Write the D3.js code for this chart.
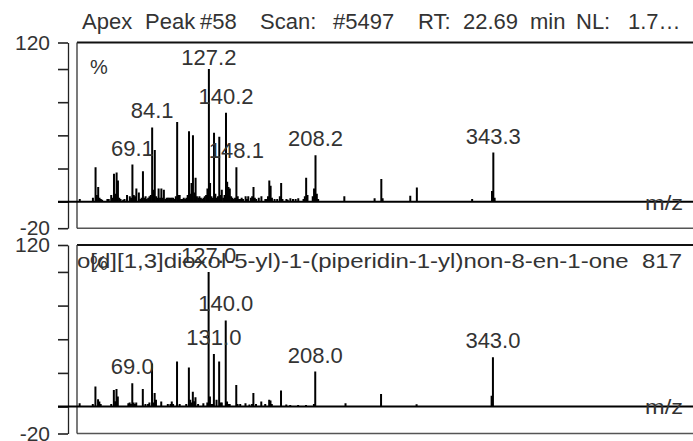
<!DOCTYPE html>
<html><head><meta charset="utf-8">
<script src="https://cdn.jsdelivr.net/npm/d3@7"></script>
<style>
body{margin:0;background:#fff}
svg{display:block}
text{font-family:Arial,"Liberation Sans",sans-serif;fill:#333}
</style>
</head><body>
<svg id="c" width="693" height="441"></svg>
<script>
// ---------- data ----------
const titleText = "Apex Peak #58 Scan: #5497 RT: 22.69 min NL: 1.7…";
const nameText = "o[d][1,3]dioxol-5-yl)-1-(piperidin-1-yl)non-8-en-1-one  817";
const mzDomain = [27, 495];
const yTicks = [-20, 0, 25, 50, 75, 100, 120];
const yTickLabels = [120, -20];

const topMz = [
  29.1,39.1,41.1,42.1,43.1,44.1,45.1,46.1,50.1,51.1,
  53.0,54.1,55.1,56.1,57.1,58.1,59.1,60.1,62.1,63.1,
  65.0,67.1,68.1,69.1,70.1,71.1,72.1,74.0,75.1,76.1,
  77.1,78.1,79.1,80.1,81.1,82.1,83.1,84.1,85.1,86.1,
  87.1,88.1,89.0,90.1,91.1,92.1,93.0,94.1,95.1,96.1,
  97.1,98.1,99.1,100.1,101.1,102.1,103.1,104.1,105.0,106.1,
  107.1,108.1,109.1,110.1,111.1,112.1,113.1,114.0,115.1,116.1,
  117.1,118.1,119.1,120.0,121.1,122.1,123.1,124.1,125.1,126.1,
  127.2,128.1,129.1,130.1,131.1,132.1,133.1,134.1,135.1,136.1,
  137.0,138.1,139.1,140.2,141.1,142.1,143.1,144.1,145.1,146.1,
  147.1,148.1,149.1,150.1,151.1,152.1,153.1,155.1,156.1,157.1,
  159.1,160.1,161.1,162.1,163.1,165.1,167.1,170.1,171.1,172.1,
  173.1,174.1,175.1,177.1,179.1,181.1,182.1,183.1,186.1,187.1,
  189.1,191.1,193.1,195.1,199.1,200.1,201.1,202.1,206.1,207.1,
  208.2,209.2,210.2,230.1,253.1,258.2,259.2,280.2,285.2,327.2,
  342.3,343.3,344.3];
const topInt = [
  2,3,26,5,11,3,2,1.5,2,2,
  5,3,21,6,22,16,3,2,1.5,2,
  5,4,3,28,5,4,10,7,2,3,
  23,3,4,2,3,4,5,56,9,39,
  4,3,10,3,10,3,9,2,3,3,
  3,3,3,3,2,4,60,5,5,2,
  2,3,2,3,5,53,6,14,50,7,
  18,4,3,4,3,2,3,4,5,10,
  100,14,4,3,52,6,3,4,49,5,
  9,3,5,67,15,11,10,4,3,2,
  3,26,4,2,2,3,2,4,2,4,
  3,4,11,3,2,3,4,2,2,4,
  16,12,3,2,2,4,14,2,2,1.5,
  2.5,2,2,2.5,2,4,18,5,4,10,
  35,6,2,4,2.5,17,2.5,4.5,10.6,2,
  8,37,3];
const topLabels = [69.1, 84.1, 127.2, 140.2, 148.1, 208.2, 343.3];

const botMz = [
  29.0,39.0,41.0,43.0,44.0,45.0,53.0,55.0,56.0,57.0,
  58.0,66.0,67.0,68.0,69.0,70.0,71.0,72.0,77.0,79.0,
  81.0,82.0,84.0,85.0,86.0,87.0,91.0,96.0,98.0,99.0,
  100.0,103.0,105.0,110.0,112.0,113.0,114.0,115.0,116.0,117.0,
  119.0,123.0,126.0,127.0,128.0,129.0,130.0,131.0,133.0,135.0,
  136.0,137.0,140.0,141.0,142.0,143.0,148.0,149.0,151.0,155.0,
  158.0,160.0,161.0,163.0,167.0,170.0,173.0,174.0,175.0,182.0,
  186.0,189.0,195.0,201.0,207.0,208.0,231.0,258.0,285.0,342.0,
  343.0];
const botInt = [
  2.5,2,15,5.4,3.7,2,2,12.4,4,13,
  7.4,2.5,3,2,17.3,3,2,3,13,2,
  2,3,32,3,10,5,3.7,2,2,3.7,
  2,33.4,2,2,29,5,3,11,4,7,
  2,2.5,3,100,7.4,2,2,39,5,33.4,
  3,3,64,3.7,2,2,16,2,2,2.5,
  1.5,2,10,2,3.7,2,5,4.5,2,12,
  1.5,1.2,1.2,1.2,2,26,2.5,9.4,1.7,8,
  36.6];
const botLabels = [69.0, 127.0, 131.0, 140.0, 208.0, 343.0];

// ---------- drawing ----------
const svg = d3.select("#c");
const x = d3.scaleLinear().domain(mzDomain).range([77, 693]);

// title
const titleX = [82, 145, 200, 260, 333, 418, 463, 530, 576, 628];
const tt = svg.append("text").attr("y", 29).style("font-size", "22px");
titleText.split(" ").forEach((w, i) => {
  tt.append("tspan").attr("x", titleX[i]).text(w);
});

const panels = [
  {id: "p0", mz: topMz, it: topInt, labels: topLabels, yRange: [228.2, 42.5], name: null, pctY: 74, mzY: 210, labMin: 22},
  {id: "p1", mz: botMz, it: botInt, labels: botLabels, yRange: [433.5, 245], name: nameText, pctY: 270, mzY: 414, labMin: 16}
];

panels.forEach(p => {
  const y = d3.scaleLinear().domain([-20, 120]).range(p.yRange);
  const top = y(120), bot = y(-20);
  const g = svg.append("g");

  g.append("clipPath").attr("id", "clip" + p.id)
    .append("rect").attr("x", 77).attr("y", top).attr("width", 700).attr("height", bot - top);

  // frame
  g.append("line").attr("x1", 77).attr("x2", 700).attr("y1", top).attr("y2", top)
    .attr("stroke", "#111").attr("stroke-width", 2);
  g.append("line").attr("x1", 77).attr("x2", 700).attr("y1", bot).attr("y2", bot)
    .attr("stroke", "#555").attr("stroke-width", 1.5);
  g.append("line").attr("x1", 77).attr("x2", 77).attr("y1", top).attr("y2", bot)
    .attr("stroke", "#333").attr("stroke-width", 1.3);

  // y axis
  const ax = g.append("g").attr("transform", "translate(68,0)")
    .call(d3.axisLeft(y).tickValues(yTicks).tickSize(10).tickSizeOuter(0).tickPadding(8)
      .tickFormat(d => yTickLabels.includes(d) ? String(d) : ""));
  ax.select(".domain").attr("stroke", "#222").attr("stroke-width", 1.3);
  ax.selectAll(".tick line").attr("stroke", "#222").attr("stroke-width", 1.6);
  ax.selectAll(".tick text").style("font-size", "21px").style("font-family", "Arial, 'Liberation Sans', sans-serif").attr("fill", "#333");

  const inner = g.append("g").attr("clip-path", "url(#clip" + p.id + ")");

  // name text
  if (p.name) {
    inner.append("text").attr("x", 77).attr("y", 268)
      .style("font-size", "21px").style("white-space", "pre")
      .attr("textLength", 605).attr("lengthAdjust", "spacingAndGlyphs")
      .text(p.name);
  }

  // baseline
  g.append("line").attr("x1", 58).attr("x2", 693).attr("y1", y(0)).attr("y2", y(0))
    .attr("stroke", "#000").attr("stroke-width", 2);

  // peaks
  const data = p.mz.map((m, i) => ({m: m, v: p.it[i]}));
  inner.selectAll("line.pk").data(data).enter().append("line").attr("class", "pk")
    .attr("x1", d => x(d.m)).attr("x2", d => x(d.m))
    .attr("y1", y(0)).attr("y2", d => y(d.v))
    .attr("stroke", "#000").attr("stroke-width", 2);

  // peak labels
  const lab = p.labels.map(m => ({m: m, v: p.it[p.mz.indexOf(m)]}));
  inner.selectAll("text.lb").data(lab).enter().append("text").attr("class", "lb")
    .attr("x", d => x(d.m)).attr("y", d => Math.max(y(d.v) - 9, top + p.labMin))
    .attr("text-anchor", "middle").style("font-size", "22px")
    .text(d => d.m.toFixed(1));

  // % and m/z
  inner.append("text").attr("x", 90).attr("y", p.pctY).style("font-size", "20px").text("%");
  g.append("text").attr("x", 645).attr("y", p.mzY).style("font-size", "21px")
    .attr("textLength", 38).attr("lengthAdjust", "spacingAndGlyphs").text("m/z");
});
</script>
</body></html>
